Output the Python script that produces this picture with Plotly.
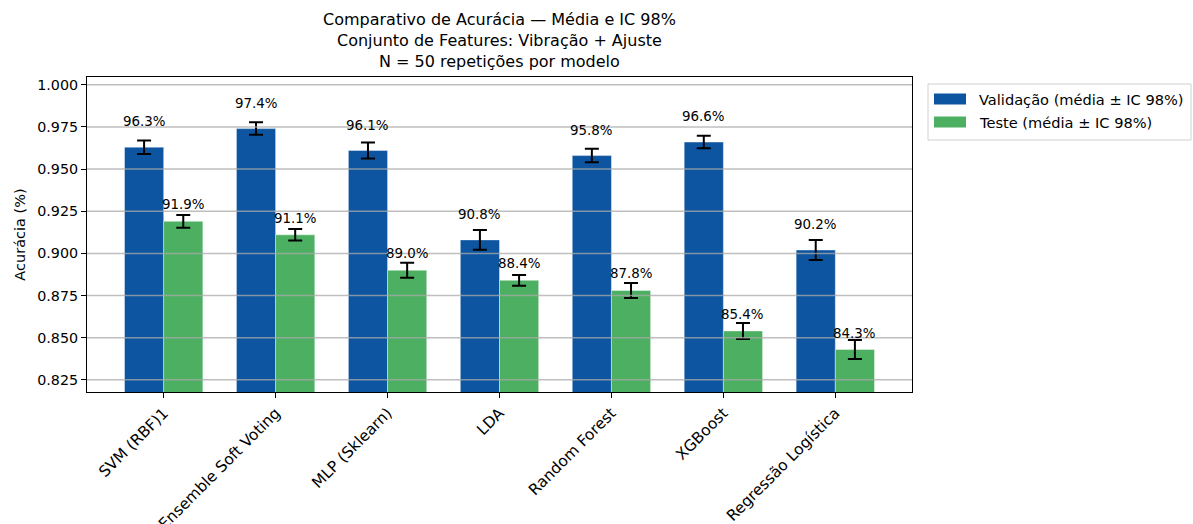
import plotly.graph_objects as go

# Modelos avaliados (Vibração + Ajuste, N = 50 repetições)
modelos = ["SVM (RBF)1", "Ensemble Soft Voting", "MLP (Sklearn)", "LDA",
           "Random Forest", "XGBoost", "Regressão Logística"]
val_media = [0.963, 0.974, 0.961, 0.908, 0.958, 0.966, 0.902]
val_ic = [0.0040, 0.0037, 0.0047, 0.0058, 0.0040, 0.0037, 0.0059]
teste_media = [0.919, 0.911, 0.890, 0.884, 0.878, 0.854, 0.843]
teste_ic = [0.0038, 0.0034, 0.0044, 0.0032, 0.0044, 0.0047, 0.0057]
y_ticks = [0.825, 0.850, 0.875, 0.900, 0.925, 0.950, 0.975, 1.000]
series = ["Validação (média ± IC 98%)", "Teste (média ± IC 98%)"]

COR_VAL = "#0D55A0"
COR_TESTE = "#4CAF62"
LARGURA = 0.35
FONTE = "DejaVu Sans"

# Área do gráfico em pixels (para elementos em coordenadas de papel)
W, H = 1193, 524
ML, MR, MT, MB = 87, 281, 77, 132
PW, PH = W - ML - MR, H - MT - MB


def px_x(px):
    return (px - ML) / PW


def px_y(py):
    return (H - MB - py) / PH


pos = list(range(len(modelos)))

fig = go.Figure()
fig.add_trace(go.Bar(
    x=pos, y=val_media, width=LARGURA, offset=-LARGURA, name=series[0],
    marker=dict(color=COR_VAL, line=dict(color="rgba(255,255,255,0.5)", width=0.8)),
    error_y=dict(type="data", array=val_ic, color="black", thickness=2, width=7),
))
fig.add_trace(go.Bar(
    x=pos, y=teste_media, width=LARGURA, offset=0, name=series[1],
    marker=dict(color=COR_TESTE, line=dict(color="rgba(255,255,255,0.5)", width=0.8)),
    error_y=dict(type="data", array=teste_ic, color="black", thickness=2, width=7),
))

# Rótulos percentuais acima de cada barra
anots = []
for i in pos:
    for desloc, v, ys in ((-LARGURA / 2, val_media[i], 16), (LARGURA / 2, teste_media[i], 7)):
        anots.append(dict(
            x=i + desloc, y=v, xref="x", yref="y", text=f"{v * 100:.1f}%",
            showarrow=False, yanchor="bottom", yshift=ys,
            font=dict(family=FONTE, size=13.4, color="black"),
        ))

# Título em três linhas
anots.append(dict(
    x=0.5, y=1, xref="paper", yref="paper", xanchor="center", yanchor="bottom",
    yshift=4, showarrow=False, align="center",
    text="Comparativo de Acurácia — Média e IC 98%<br>Conjunto de Features: Vibração + Ajuste<br>N = 50 repetições por modelo",
    font=dict(family=FONTE, size=16, color="black"),
))

# Grade horizontal desenhada sobre as barras
formas = [dict(type="line", xref="paper", x0=0, x1=1, yref="y", y0=t, y1=t,
               line=dict(color="rgba(170,170,170,0.75)", width=1.5), layer="above")
          for t in y_ticks]

# Legenda fora do gráfico, à direita
formas.append(dict(type="rect", xref="paper", yref="paper",
                   x0=px_x(928), x1=px_x(1191), y0=px_y(140), y1=px_y(84),
                   line=dict(color="#d0d0d0", width=1), fillcolor="white"))
for k, (nome, cor) in enumerate(zip(series, [COR_VAL, COR_TESTE])):
    cy = 99 + k * 23
    formas.append(dict(type="rect", xref="paper", yref="paper",
                       x0=px_x(934), x1=px_x(966), y0=px_y(cy + 5.5), y1=px_y(cy - 5.5),
                       line=dict(width=0), fillcolor=cor))
    anots.append(dict(x=px_x(977), y=px_y(cy), xref="paper", yref="paper",
                      xanchor="left", yanchor="middle", showarrow=False, text=nome,
                      font=dict(family=FONTE, size=14.6, color="black")))

fig.update_layout(
    width=W, height=H,
    margin=dict(l=ML, r=MR, t=MT, b=MB, autoexpand=False),
    paper_bgcolor="white", plot_bgcolor="white",
    font=dict(family=FONTE, size=14, color="black"),
    barmode="overlay",
    showlegend=False,
    annotations=anots,
    shapes=formas,
)
fig.update_xaxes(
    range=[-0.685, 6.685], tickmode="array", tickvals=pos, ticktext=modelos,
    tickangle=-45, ticks="outside", ticklen=5, tickcolor="black",
    showline=True, linecolor="black", linewidth=1, mirror=True, showgrid=False,
    tickfont=dict(family=FONTE, size=15.4), automargin=False,
)
fig.update_yaxes(
    range=[0.8178, 1.0046], tickmode="array", tickvals=y_ticks,
    ticktext=[f"{t:.3f}" for t in y_ticks],
    ticks="outside", ticklen=5, tickcolor="black",
    showline=True, linecolor="black", linewidth=1, mirror=True, showgrid=False,
    zeroline=False, automargin=False,
    title=dict(text="Acurácia (%)", font=dict(family=FONTE, size=14.5), standoff=8),
    tickfont=dict(family=FONTE, size=14.3),
)

fig.write_html("out.html")
